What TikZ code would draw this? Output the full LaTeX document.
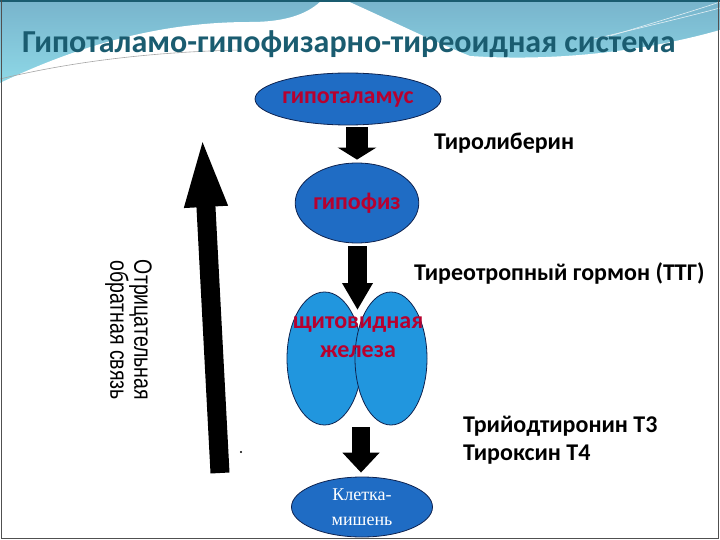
\documentclass[tikz,border=0pt]{standalone}
\usepackage{fontspec}
\setmainfont{Carlito}
\newfontfamily\cellfont{Liberation Serif}
\newfontfamily\notefont[FakeStretch=0.78]{Liberation Sans}
\usetikzlibrary{arrows.meta, positioning, shapes.geometric, calc}
\definecolor{TitleTeal}{HTML}{1A5C70}
\definecolor{BandTop}{HTML}{78B4CC}
\definecolor{BandLow}{HTML}{8FDAE8}
\definecolor{OrganBlue}{HTML}{1F6CC4}
\definecolor{LobeBlue}{HTML}{2196DE}
\definecolor{OrganEdge}{HTML}{0E2350}
\definecolor{OrganText}{HTML}{B8002E}
\definecolor{FrameGray}{HTML}{505050}

\begin{document}
\begin{tikzpicture}[
            x=1pt, y=-1pt,
            organ/.style = {ellipse, draw=OrganEdge, line width=0.8pt, fill=OrganBlue, inner sep=0pt, font=\fontsize{24}{29}\selectfont\bfseries, text=OrganText},
            lobe/.style = {ellipse, draw=OrganEdge, line width=0.8pt, fill=LobeBlue, minimum height=133pt, inner sep=0pt},
            hormone/.style = {font=\fontsize{24}{28}\selectfont\bfseries, text=black, inner sep=0pt},
            flow/.style n args = {3}{draw, black, line width=#1, -{Triangle[width=#2, length=#3]}}
        ]
            \useasboundingbox (0,0) rectangle (720,540);
            % slide background
            \fill[white] (0,0) rectangle (720,540);
            \shade[top color=BandTop, bottom color=BandLow] (0,0) rectangle (720,88);
            \fill[white] (0,83) .. controls (80,45) and (160,22) .. (250,22) .. controls (290,22) and (310,12) .. (322,0) -- (345,0) .. controls (390,20) and (430,40) .. (470,56) .. controls (560,62) and (650,50) .. (720,30) -- (720,90) -- (0,90) -- cycle;
            \draw[gray!70, line width=0.6pt] (0,79) .. controls (70,62) and (150,52) .. (240,50);
            \draw[white!80!BandTop, line width=0.6pt] (610,36) .. controls (650,24) and (690,12) .. (720,2);
            \draw[white!80!BandTop, line width=0.6pt] (590,40) .. controls (640,28) and (690,16) .. (720,8);
            \fill[TitleTeal] (0,0) rectangle (720,2);
            \draw[FrameGray, line width=1.5pt] (1.5,0) -- (1.5,538.5) -- (718.5,538.5) -- (718.5,0);

            \node[font=\fontsize{32}{38}\selectfont\bfseries, text=TitleTeal, anchor=base west, inner sep=0pt] (title) at (22,53) {Гипоталамо-гипофизарно-тиреоидная система};

            % organs
            \node[organ, minimum width=145pt, minimum height=52pt] (hypo) at (348,99) {гипоталамус};
            \node[organ, minimum width=70pt, minimum height=80pt] (pit) at (357,203) {гипофиз};
            \node[lobe, minimum width=75pt] (lobeL) at (324.5,358.5) {};
            \node[lobe, minimum width=72pt] (lobeR) at (391,358.5) {};
            \node[font=\fontsize{24}{29}\selectfont\bfseries, text=OrganText, align=center] (thytext) at (358,337) {щитовидная\\железа};
            \node[organ, minimum width=141pt, minimum height=60pt, text=white, font=\cellfont\fontsize{18}{25}\selectfont, align=center] (cell) at (362,507) {Клетка-\\мишень};
            \coordinate (notch) at (357.5,310);
            \coordinate (fbBase) at (220,473);
            \coordinate (fbTip) at (202,132);

            % hormones
            \node[hormone, anchor=base west] (trh) at (434,150) {Тиролиберин};
            \node[hormone, anchor=base west] (tsh) at (414,280) {Тиреотропный гормон (ТТГ)};
            \node[hormone, anchor=base west] (t3) at (463,432) {Трийодтиронин Т3};
            \node[hormone, anchor=base west] (t4) at (463,460) {Тироксин Т4};
            \node[font=\notefont\fontsize{25}{24}\selectfont, rotate=-90, align=center] (fbtext) at (128.5,330) {Отрицательная\\обратная связь};

            \draw [flow={22pt}{38pt}{12pt}] ($(hypo.south -| pit.north)+(0,2)$) -- ($(pit.north)+(0,-3)$);
            \draw [flow={19pt}{29pt}{27pt}] ($(pit.south)+(0.5,3)$) -- (notch);
            \draw [flow={18pt}{36pt}{20pt}] ($(lobeL.south -| cell.north)+(-1,2)$) -- ($(cell.north)+(-1,-4)$);
            \draw [flow={19pt}{37pt}{75pt}] (fbBase) -- (fbTip);
            \fill (241,452) circle (1.2pt);
        \end{tikzpicture}
\end{document}
